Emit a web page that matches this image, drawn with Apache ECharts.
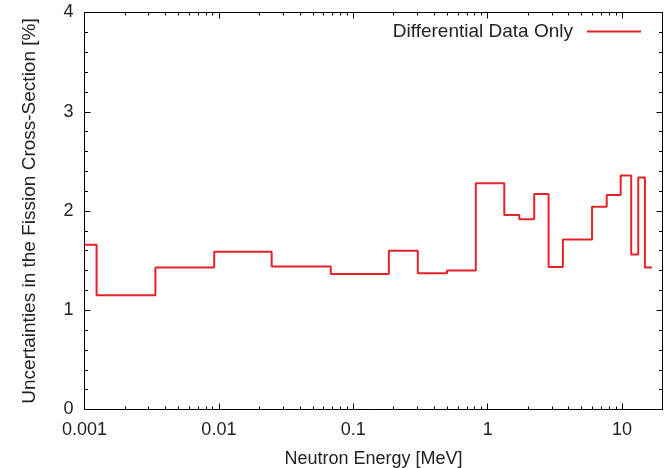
<!DOCTYPE html>
<html lang="en">
<head>
    <meta charset="UTF-8">
    <title>Fission cross-section uncertainties</title>
    <style>
        html, body { margin: 0; padding: 0; background: #fff; }
        #main { width: 667px; height: 468px; }
    </style>
</head>
<body>
<div id="main"></div>
<script src="https://cdn.jsdelivr.net/npm/echarts@6.0.0/dist/echarts.min.js"></script>
<script type="text/javascript">
    // group boundaries [MeV] and uncertainty in each group [%]
    var energyEdges = [0.001, 0.00123, 0.00337, 0.00923, 0.0247, 0.068, 0.184, 0.302, 0.498, 0.816,
        1.33, 1.72, 2.22, 2.84, 3.63, 5.98, 7.69, 9.77, 11.7, 13.2, 14.8, 16.7];
    var uncertainty = [1.66, 1.15, 1.43, 1.59, 1.44, 1.366, 1.60, 1.373, 1.40, 2.28,
        1.96, 1.917, 2.172, 1.436, 1.712, 2.044, 2.162, 2.357, 1.561, 2.337, 1.43];
    var majorTicks = [0.001, 0.01, 0.1, 1, 10];
    var minorTicks = [];
    for (var d = 0; d < majorTicks.length; d++) {
        for (var m = 2; m <= 9; m++) {
            var t = parseFloat((majorTicks[d] * m).toPrecision(3));
            if (t <= 20) minorTicks.push(t);
        }
    }
    var seriesName = 'Differential Data Only';

    var points = energyEdges.map(function (e, i) {
        return [e, uncertainty[Math.min(i, uncertainty.length - 1)]];
    });

    var font = 'Liberation Sans, Arial, sans-serif';

    function logAxis(pos, ticks, len, labels) {
        return {
            type: 'log',
            position: pos,
            min: 0.001,
            max: 20,
            logBase: 10,
            name: labels ? 'Neutron Energy [MeV]' : '',
            nameLocation: 'middle',
            nameGap: 41,
            nameTextStyle: {color: '#222', fontSize: 18, fontFamily: font},
            axisLine: {show: true, onZero: false, lineStyle: {color: '#000', width: 1}},
            axisTick: {show: true, inside: true, length: len, customValues: ticks, lineStyle: {color: '#000'}},
            axisLabel: {
                show: labels,
                customValues: majorTicks,
                margin: 12,
                color: '#222',
                fontSize: 18,
                fontFamily: font,
                formatter: function (v) { return String(parseFloat(Number(v).toPrecision(3))); }
            },
            splitLine: {show: false},
            minorTick: {show: false}
        };
    }

    function linAxis(pos, labels) {
        return {
            type: 'value',
            position: pos,
            min: 0,
            max: 4,
            interval: 1,
            name: labels ? 'Uncertainties in the Fission Cross-Section [%]' : '',
            nameLocation: 'middle',
            nameGap: 45,
            nameTextStyle: {color: '#222', fontSize: 19, fontFamily: font},
            axisLine: {show: true, onZero: false, lineStyle: {color: '#000', width: 1}},
            axisTick: {show: true, inside: true, length: 6, lineStyle: {color: '#000'}},
            minorTick: {show: true, splitNumber: 5, length: 3.5, lineStyle: {color: '#000'}},
            axisLabel: {show: labels, margin: 11, color: '#222', fontSize: 18, fontFamily: font},
            splitLine: {show: false},
            minorSplitLine: {show: false}
        };
    }

    var myChart = echarts.init(document.getElementById('main'));

    var option = {
        animation: false,
        backgroundColor: '#fff',
        grid: {left: 84.5, right: 4.5, top: 12.5, bottom: 58.5, outerBoundsMode: 'none', containLabel: false},
        legend: {
            data: [seriesName],
            right: 26,
            top: 22,
            align: 'right',
            padding: 0,
            icon: 'path://M0,0H54V2H0Z',
            itemWidth: 54,
            itemHeight: 2,
            textStyle: {color: '#222', fontSize: 19, fontFamily: font, padding: [0, 9, 0, 0]}
        },
        xAxis: [
            logAxis('bottom', majorTicks, 6, true),
            logAxis('bottom', minorTicks, 3, false),
            logAxis('top', majorTicks, 6, false),
            logAxis('top', minorTicks, 3, false)
        ],
        yAxis: [
            linAxis('left', true),
            linAxis('right', false)
        ],
        series: [{
            name: seriesName,
            type: 'line',
            step: 'end',
            symbol: 'none', //去掉圆点
            xAxisIndex: 0,
            yAxisIndex: 0,
            lineStyle: {color: '#e4222a', width: 2},
            itemStyle: {color: '#e4222a'},
            data: points
        }]
    };

    myChart.setOption(option);
</script>
</body>
</html>
